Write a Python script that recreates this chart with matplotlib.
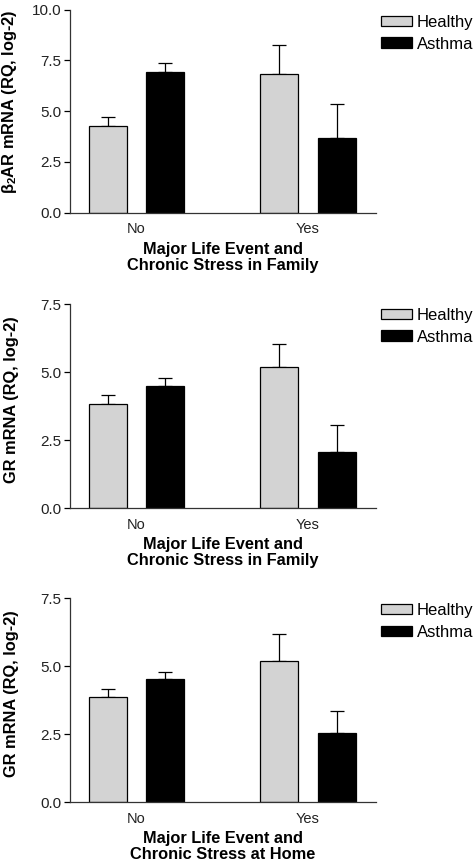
import matplotlib
matplotlib.use("Agg")
import matplotlib.pyplot as plt
import numpy as np

plt.rcParams['font.family'] = ['Liberation Sans', 'DejaVu Sans']
plt.rcParams['mathtext.fontset'] = 'custom'
plt.rcParams['mathtext.rm'] = 'Liberation Sans'
plt.rcParams['mathtext.it'] = 'Liberation Sans:italic'
plt.rcParams['mathtext.bf'] = 'Liberation Sans:bold'

groups = ["No", "Yes"]
series = ["Healthy", "Asthma"]

p1_healthy = [4.29, 6.85]
p1_healthy_err = [0.44, 1.41]
p1_asthma = [6.93, 3.66]
p1_asthma_err = [0.43, 1.71]

p2_healthy = [3.84, 5.20]
p2_healthy_err = [0.31, 0.83]
p2_asthma = [4.50, 2.05]
p2_asthma_err = [0.29, 0.99]

p3_healthy = [3.88, 5.20]
p3_healthy_err = [0.27, 1.00]
p3_asthma = [4.52, 2.54]
p3_asthma_err = [0.26, 0.81]

ylabels = [r'$\mathregular{\beta_2}$AR mRNA (RQ, log-2)', 'GR mRNA (RQ, log-2)', 'GR mRNA (RQ, log-2)']
xlabels = ['Major Life Event and\nChronic Stress in Family',
           'Major Life Event and\nChronic Stress in Family',
           'Major Life Event and\nChronic Stress at Home']
ylims = [10.0, 7.5, 7.5]
yticks = [[0.0, 2.5, 5.0, 7.5, 10.0], [0.0, 2.5, 5.0, 7.5], [0.0, 2.5, 5.0, 7.5]]

panels = [
    (p1_healthy, p1_healthy_err, p1_asthma, p1_asthma_err),
    (p2_healthy, p2_healthy_err, p2_asthma, p2_asthma_err),
    (p3_healthy, p3_healthy_err, p3_asthma, p3_asthma_err),
]

W, H = 475, 866
fig = plt.figure(figsize=(W / 100, H / 100), dpi=100)

# axes rectangles in pixels: (left, top, right, bottom)
rects = [(70, 9.7, 375.7, 212.7), (70, 304.3, 375.7, 508), (70, 598.3, 375.7, 802)]
legend_tops = [15, 308, 603]
label_centers = [102, 400, 694]

x = np.arange(len(groups))
off = 0.167
bw = 0.221
healthy_color = '#d3d3d3'

for i, (hv, he, av, ae) in enumerate(panels):
    l, t, r, b = rects[i]
    ax = fig.add_axes([l / W, 1 - b / H, (r - l) / W, (b - t) / H])
    bh = ax.bar(x - off, hv, bw, color=healthy_color, edgecolor='black', linewidth=0.9,
                label=series[0], zorder=2)
    ba = ax.bar(x + off, av, bw, color='black', edgecolor='black', linewidth=0.9,
                label=series[1], zorder=2)
    ax.errorbar(x - off, hv, yerr=[np.zeros(len(he)), he], fmt='none', ecolor='black',
                elinewidth=0.9, capsize=5, capthick=0.9, zorder=1)
    ax.errorbar(x + off, av, yerr=[np.zeros(len(ae)), ae], fmt='none', ecolor='black',
                elinewidth=0.9, capsize=5, capthick=0.9, zorder=1)
    ax.set_xlim(-0.386, 1.395)
    ax.set_ylim(0, ylims[i])
    ax.set_yticks(yticks[i])
    ax.set_yticklabels([f'{v:.1f}' for v in yticks[i]], fontsize=11, color='#222222')
    ax.set_xticks(x)
    ax.set_xticklabels(groups, fontsize=10.5, color='#222222')
    ax.tick_params(axis='x', length=0, pad=7)
    ax.tick_params(axis='y', length=4, width=0.9, direction='out', pad=2)
    for s in ['top', 'right']:
        ax.spines[s].set_visible(False)
    for s in ['left', 'bottom']:
        ax.spines[s].set_linewidth(0.9)
        ax.spines[s].set_color('#333333')
    ax.set_ylabel(ylabels[i], fontsize=11.8, fontweight='bold')
    ax.yaxis.set_label_coords((19 - l) / (r - l), (b - label_centers[i]) / (b - t))
    ax.set_xlabel(xlabels[i], fontsize=11.8, fontweight='bold', labelpad=4, linespacing=1.1)
    fig.legend(handles=[bh, ba], labels=series, loc='upper left',
               bbox_to_anchor=(381 / W, 1 - legend_tops[i] / H), frameon=False,
               fontsize=12, handlelength=1.85, handleheight=0.6, handletextpad=0.3,
               labelspacing=0.4, borderpad=0, borderaxespad=0)

fig.savefig('out.png', dpi=100)
